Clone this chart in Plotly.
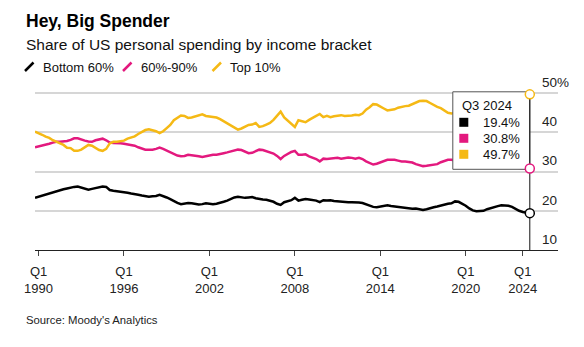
import plotly.graph_objects as go

# Quarterly shares of US personal spending (%), 1989 Q4 through 2024 Q3
start_year, start_quarter = 1989, 4

bottom_60 = [
    23.3,
    23.6, 23.8, 24.1, 24.4,  # 1990
    24.8, 24.9, 25.2, 25.5,  # 1991
    25.7, 26.0, 26.1, 26.2,  # 1992
    25.9, 25.7, 25.4, 25.6,  # 1993
    25.8, 26.1, 26.2, 26.1,  # 1994
    25.3, 25.1, 25.0, 24.9,  # 1995
    24.8, 24.6, 24.4, 24.3,  # 1996
    24.1, 23.9, 23.7, 23.6,  # 1997
    23.7, 23.8, 24.1, 23.8,  # 1998
    23.4, 23.0, 22.4, 22.0,  # 1999
    21.7, 21.8, 22.0, 21.9,  # 2000
    21.7, 21.6, 21.7, 21.9,  # 2001
    21.8, 21.7, 21.8, 22.0,  # 2002
    22.3, 22.6, 23.1, 23.4,  # 2003
    23.6, 23.4, 23.3, 23.4,  # 2004
    23.5, 23.2, 23.0, 22.9,  # 2005
    22.8, 22.6, 22.3, 21.8,  # 2006
    21.5, 22.2, 22.4, 22.7,  # 2007
    23.3, 22.6, 22.8, 23.0,  # 2008
    22.9, 22.8, 22.6, 22.2,  # 2009
    22.7, 22.6, 22.7, 22.5,  # 2010
    22.4, 22.3, 22.3, 22.2,  # 2011
    22.2, 22.2, 22.1, 22.0,  # 2012
    21.6, 21.3, 21.0, 20.9,  # 2013
    21.1, 21.2, 21.4, 21.2,  # 2014
    21.1, 20.9, 20.8, 20.7,  # 2015
    20.6, 20.5, 20.6, 20.4,  # 2016
    20.2, 20.4, 20.7, 20.9,  # 2017
    21.1, 21.4, 21.6, 21.8,  # 2018
    21.9, 22.4, 22.3, 21.9,  # 2019
    21.3, 20.6, 20.1, 19.9,  # 2020
    20.0, 20.0, 20.4, 20.7,  # 2021
    21.0, 21.2, 21.4, 21.4,  # 2022
    21.3, 21.0, 20.4, 20.0,  # 2023
    19.7, 19.6, 19.4,        # 2024
]

middle_30 = [
    36.2,
    36.4, 36.7, 36.9, 37.1,  # 1990
    37.4, 37.6, 37.6, 37.7,  # 1991
    37.8, 38.1, 38.5, 38.5,  # 1992
    38.1, 37.9, 37.7, 37.6,  # 1993
    38.0, 38.3, 38.4, 38.0,  # 1994
    37.4, 37.3, 37.3, 37.2,  # 1995
    37.1, 36.9, 36.8, 36.6,  # 1996
    36.2, 35.9, 35.6, 35.6,  # 1997
    35.6, 35.8, 36.1, 35.8,  # 1998
    35.4, 35.0, 34.4, 34.1,  # 1999
    33.9, 34.0, 34.3, 34.2,  # 2000
    34.1, 33.9, 33.7, 33.9,  # 2001
    34.1, 34.3, 34.3, 34.6,  # 2002
    34.7, 34.9, 35.1, 35.3,  # 2003
    35.6, 35.5, 35.1, 34.7,  # 2004
    34.8, 35.1, 35.6, 35.5,  # 2005
    35.2, 35.0, 34.6, 34.0,  # 2006
    33.2, 34.0, 34.6, 35.0,  # 2007
    35.3, 34.3, 34.3, 34.4,  # 2008
    33.9, 33.6, 33.2, 32.6,  # 2009
    33.3, 33.2, 33.3, 33.4,  # 2010
    33.5, 33.3, 33.4, 33.6,  # 2011
    33.5, 33.3, 33.5, 33.2,  # 2012
    32.6, 32.3, 31.8, 32.0,  # 2013
    32.4, 32.7, 33.0, 33.0,  # 2014
    33.0, 32.8, 32.6, 32.6,  # 2015
    32.5, 32.3, 31.9, 31.7,  # 2016
    31.4, 31.5, 31.6, 31.7,  # 2017
    31.9, 32.4, 32.7, 33.0,  # 2018
    33.0, 32.8, 32.6, 32.8,  # 2019
    33.2, 33.8, 33.0, 32.6,  # 2020
    32.2, 31.8, 31.6, 31.5,  # 2021
    31.4, 31.2, 31.0, 31.2,  # 2022
    31.3, 31.1, 31.0, 30.9,  # 2023
    30.9, 30.8, 30.8,        # 2024
]

top_10 = [
    40.2,
    39.9, 39.4, 38.9, 38.6,  # 1990
    38.0, 37.6, 37.3, 36.8,  # 1991
    36.1, 36.0, 35.3, 35.3,  # 1992
    35.6, 36.2, 36.8, 36.6,  # 1993
    36.1, 35.5, 35.3, 35.8,  # 1994
    37.2, 37.6, 37.6, 37.7,  # 1995
    37.9, 38.4, 38.7, 39.0,  # 1996
    39.6, 40.1, 40.6, 40.8,  # 1997
    40.6, 40.3, 39.8, 40.3,  # 1998
    41.1, 41.9, 43.1, 43.8,  # 1999
    44.3, 44.2, 43.7, 43.8,  # 2000
    44.1, 44.4, 44.6, 44.2,  # 2001
    44.1, 43.9, 43.8, 43.4,  # 2002
    42.9, 42.4, 41.8, 41.2,  # 2003
    40.7, 41.0, 41.5, 41.9,  # 2004
    42.0, 42.4, 41.4, 41.6,  # 2005
    42.0, 42.4, 43.2, 44.3,  # 2006
    45.3, 43.8, 43.0, 42.3,  # 2007
    41.4, 43.1, 42.9, 42.6,  # 2008
    43.2, 43.6, 44.2, 44.7,  # 2009
    43.9, 44.2, 43.9, 44.1,  # 2010
    44.2, 44.4, 44.2, 44.2,  # 2011
    44.3, 44.5, 44.4, 44.8,  # 2012
    45.8, 46.4, 47.2, 47.1,  # 2013
    46.5, 46.1, 45.6, 45.8,  # 2014
    45.9, 46.3, 46.6, 46.7,  # 2015
    46.8, 47.2, 47.6, 48.0,  # 2016
    48.1, 48.0, 47.5, 46.9,  # 2017
    46.5, 46.2, 45.6, 45.0,  # 2018
    44.8, 45.0, 45.1, 45.3,  # 2019
    45.4, 45.5, 46.8, 47.4,  # 2020
    47.7, 48.1, 47.9, 47.7,  # 2021
    47.5, 47.5, 47.5, 47.3,  # 2022
    47.3, 47.8, 48.5, 49.0,  # 2023
    49.3, 49.5, 49.7,        # 2024
]

series_names = ["Bottom 60%", "60%-90%", "Top 10%"]
series_colors = ["#000000", "#e3197e", "#f5b915"]
series_values = [bottom_60, middle_30, top_10]

x_tick_years = [1990, 1996, 2002, 2008, 2014, 2020, 2024]
x_tick_labels = [f"Q1<br>{y}" for y in x_tick_years]
y_tick_values = [10, 20, 30, 40, 50]
y_tick_labels = ["10", "20", "30", "40", "50%"]

title_text = "Hey, Big Spender"
subtitle_text = "Share of US personal spending by income bracket"
source_text = "Source: Moody's Analytics"

# quarter positions as fractional years
x_vals, quarter_names = [], []
for i in range(len(bottom_60)):
    k = start_quarter - 1 + i
    yr, q = start_year + k // 4, k % 4 + 1
    x_vals.append(yr + (q - 1) / 4)
    quarter_names.append(f"Q{q} {yr}")

# ---- page geometry ----
W, H = 584, 347
ML, MR, MT, MB = 35, 26, 89, 97
PW, PH = W - ML - MR, H - MT - MB
X_RANGE = [1989.75, 2026.48]
Y_RANGE = [10, 51.07]
FONT = "Liberation Sans, Arial, sans-serif"


def dx(px):
    return X_RANGE[0] + (px - ML) / PW * (X_RANGE[1] - X_RANGE[0])


def dy(py):
    return Y_RANGE[0] + (H - MB - py) / PH * (Y_RANGE[1] - Y_RANGE[0])


def paper_x(px):
    return (px - ML) / PW


def paper_y(py):
    return (H - MB - py) / PH


fig = go.Figure()
for name, color, vals in zip(series_names, series_colors, series_values):
    fig.add_trace(go.Scatter(
        x=x_vals, y=vals, name=name, mode="lines",
        line=dict(color=color, width=2.5),
        hoverinfo="skip", showlegend=False,
    ))

shapes, annotations = [], []

# header texts
annotations.append(dict(text=f"<b>{title_text}</b>", xref="paper", yref="paper",
                        x=paper_x(24), y=paper_y(21), xanchor="left", yanchor="middle",
                        showarrow=False, font=dict(family=FONT, size=17.5, color="#000")))
annotations.append(dict(text=subtitle_text, xref="paper", yref="paper",
                        x=paper_x(24), y=paper_y(44), xanchor="left", yanchor="middle",
                        showarrow=False, font=dict(family=FONT, size=15.5, color="#111")))
annotations.append(dict(text=source_text, xref="paper", yref="paper",
                        x=paper_x(24), y=paper_y(320), xanchor="left", yanchor="middle",
                        showarrow=False, font=dict(family=FONT, size=11.3, color="#222")))

# legend: slanted strokes followed by the series names
legend_starts = [25, 123, 212.5]
for name, color, x0 in zip(series_names, series_colors, legend_starts):
    shapes.append(dict(type="line", xref="paper", yref="paper",
                       x0=paper_x(x0), y0=paper_y(71), x1=paper_x(x0 + 8.5), y1=paper_y(62.5),
                       line=dict(color=color, width=2.5)))
    annotations.append(dict(text=name, xref="paper", yref="paper",
                            x=paper_x(x0 + 15.5), y=paper_y(67), xanchor="left", yanchor="middle",
                            showarrow=False, font=dict(family=FONT, size=13, color="#111")))

# hover readout for the latest quarter
last_x = x_vals[-1]
shapes.append(dict(type="rect", xref="x", yref="y", layer="above",
                   x0=dx(452.8), x1=last_x, y0=dy(169.3), y1=dy(91.8),
                   fillcolor="white", line=dict(color="#555", width=1)))
shapes.append(dict(type="line", xref="x", yref="y", layer="above",
                   x0=last_x, x1=last_x, y0=Y_RANGE[0], y1=top_10[-1],
                   line=dict(color="#111", width=1)))
annotations.append(dict(text=quarter_names[-1], xref="x", yref="y",
                        x=dx(459.5), y=dy(105), xanchor="left", yanchor="middle",
                        showarrow=False, font=dict(family=FONT, size=13, color="#111")))
row_y = [122.3, 138.3, 154.3]
for color, vals, ry in zip(series_colors, series_values, row_y):
    shapes.append(dict(type="rect", xref="x", yref="y", layer="above",
                       x0=dx(459.3), x1=dx(468.3), y0=dy(ry + 4.5), y1=dy(ry - 4.5),
                       fillcolor=color, line=dict(width=0)))
    annotations.append(dict(text=f"{vals[-1]:.1f}%", xref="x", yref="y",
                            x=dx(522), y=dy(ry), xanchor="right", yanchor="middle",
                            showarrow=False, font=dict(family=FONT, size=13, color="#111")))
for color, vals in zip(series_colors, series_values):
    shapes.append(dict(type="circle", xref="x", yref="y", layer="above",
                       xsizemode="pixel", ysizemode="pixel",
                       xanchor=last_x, yanchor=vals[-1],
                       x0=-4.5, x1=4.5, y0=-4.5, y1=4.5,
                       fillcolor="white", line=dict(color=color, width=1.5)))

fig.update_layout(
    width=W, height=H,
    margin=dict(l=ML, r=MR, t=MT, b=MB, pad=0),
    paper_bgcolor="white", plot_bgcolor="white",
    font=dict(family=FONT, color="#222"),
    shapes=shapes, annotations=annotations,
    showlegend=False,
    xaxis=dict(
        range=X_RANGE, showgrid=False, zeroline=False,
        showline=True, linecolor="#222", linewidth=1,
        tickmode="array", tickvals=x_tick_years, ticktext=x_tick_labels,
        ticks="outside", ticklen=5, tickcolor="#444", tickwidth=1,
        ticklabelstandoff=4,
        tickfont=dict(family=FONT, size=13, color="#222"),
    ),
    yaxis=dict(
        range=Y_RANGE, side="right", showline=False, zeroline=False,
        showgrid=True, gridcolor="#d6d6d6", gridwidth=1.5,
        tickmode="array", tickvals=y_tick_values, ticktext=y_tick_labels,
        ticks="", ticklabelposition="outside",
        ticklabelstandoff=-17, ticklabelshift=-11,
        tickfont=dict(family=FONT, size=13.5, color="#222"),
    ),
)

fig.write_html("out.html")
